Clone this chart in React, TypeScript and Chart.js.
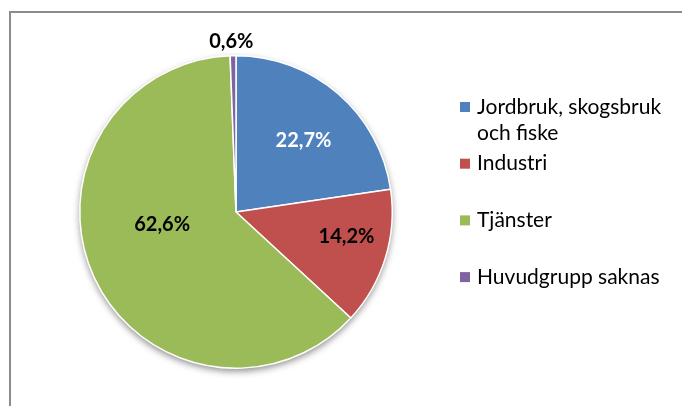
import React, { useEffect, useRef } from "react";
import { Chart, registerables } from "chart.js";

Chart.register(...registerables);

const categories: (string | string[])[] = [
  ["Jordbruk, skogsbruk", "och fiske"],
  "Industri",
  "Tjänster",
  "Huvudgrupp saknas",
];
const shares = [22.7, 14.2, 62.6, 0.6];
const valueLabels = ["22,7%", "14,2%", "62,6%", "0,6%"];
const colors = ["#4F81BD", "#C0504D", "#9BBB59", "#8064A2"];
const labelColors = ["#FFFFFF", "#000000", "#000000", "#000000"];
// label placement: radius fraction and angle offset (deg) relative to slice mid-angle
const labelRadius = [0.63, 0.725, 0.48, 1.09];
const labelAngleShift = [2.5, -4.4, 14.8, -0.5];

const shadowPlugin = {
  id: "pieShadow",
  beforeDatasetsDraw(chart: any) {
    const meta = chart.getDatasetMeta(0);
    const arc = meta.data[0];
    if (!arc) return;
    const { x, y, outerRadius } = arc.getProps(["x", "y", "outerRadius"], true);
    const ctx = chart.ctx;
    ctx.save();
    ctx.shadowColor = "rgba(0,0,0,0.45)";
    ctx.shadowBlur = 7;
    ctx.shadowOffsetX = 0;
    ctx.shadowOffsetY = 3;
    ctx.fillStyle = "#ffffff";
    ctx.beginPath();
    ctx.arc(x, y, outerRadius, 0, Math.PI * 2);
    ctx.fill();
    ctx.restore();
  },
};

const valueLabelPlugin = {
  id: "valueLabels",
  afterDatasetsDraw(chart: any) {
    const ctx = chart.ctx;
    const meta = chart.getDatasetMeta(0);
    ctx.save();
    ctx.font = "bold 20px Lato";
    ctx.textAlign = "center";
    ctx.textBaseline = "middle";
    meta.data.forEach((arc: any, i: number) => {
      const { x, y, startAngle, endAngle, outerRadius } = arc.getProps(
        ["x", "y", "startAngle", "endAngle", "outerRadius"],
        true
      );
      const mid = (startAngle + endAngle) / 2 + (labelAngleShift[i] * Math.PI) / 180;
      const r = outerRadius * labelRadius[i];
      ctx.fillStyle = labelColors[i];
      ctx.fillText(valueLabels[i], x + r * Math.cos(mid), y + r * Math.sin(mid));
    });
    ctx.restore();
  },
};

const legendPlugin = {
  id: "sideLegend",
  afterDraw(chart: any) {
    const ctx = chart.ctx;
    const labels = chart.data.labels as (string | string[])[];
    const bg = chart.data.datasets[0].backgroundColor as string[];
    const x0 = 460;
    const y0 = 107;
    const step = 56.7;
    const lineH = 26;
    ctx.save();
    ctx.font = "21px Lato";
    ctx.textBaseline = "middle";
    ctx.textAlign = "left";
    labels.forEach((lab, i) => {
      const yc = y0 + step * i;
      ctx.fillStyle = bg[i];
      ctx.fillRect(x0, yc - 5, 10, 10);
      ctx.fillStyle = "#000000";
      const lines = Array.isArray(lab) ? lab : [lab];
      lines.forEach((t, j) => ctx.fillText(t, x0 + 17, yc + j * lineH));
    });
    ctx.restore();
  },
};

export default function App() {
  const ref = useRef<HTMLCanvasElement | null>(null);
  useEffect(() => {
    if (!ref.current) return;
    const chart = new Chart(ref.current, {
      type: "pie",
      data: {
        labels: categories as any,
        datasets: [
          {
            data: shares,
            backgroundColor: colors,
            borderColor: "#ffffff",
            borderWidth: 1.5,
          },
        ],
      },
      options: {
        responsive: false,
        animation: false,
        devicePixelRatio: 1,
        layout: { padding: { top: 55, bottom: 37, left: 79, right: 289 } },
        plugins: {
          legend: { display: false },
          tooltip: { enabled: false },
        },
      } as any,
      plugins: [shadowPlugin, valueLabelPlugin, legendPlugin],
    });
    return () => chart.destroy();
  }, []);
  return (
    <div style={{ position: "fixed", left: 0, top: 0, width: 682, height: 406, background: "#fff", overflow: "hidden" }}>
      <div
        style={{
          position: "absolute",
          left: 9,
          top: 11,
          width: 800,
          height: 600,
          borderLeft: "2px solid #8c8c8c",
          borderTop: "2px solid #8c8c8c",
        }}
      />
      <canvas ref={ref} width={682} height={406} style={{ position: "absolute", left: 0, top: 0 }} />
    </div>
  );
}
